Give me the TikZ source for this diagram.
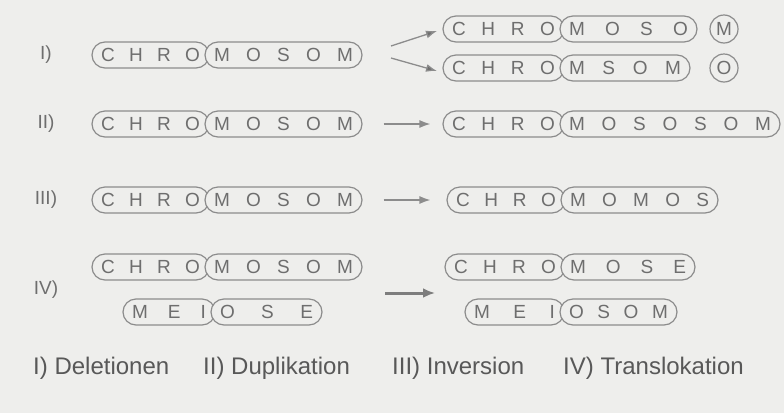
\documentclass[tikz,border=0pt]{standalone}
\usepackage{fontspec}
\setmainfont{Liberation Sans}
\usetikzlibrary{arrows.meta}
\definecolor{paper}{RGB}{238,238,236}
\definecolor{ink}{RGB}{110,110,110}
\definecolor{rim}{RGB}{140,140,140}

\begin{document}
\begin{tikzpicture}[x=1pt,y=-1pt,>={Latex[length=11pt,width=8pt]}]
\tikzstyle{arm} = [draw=rim,line width=1.2pt,fill=paper,rectangle,rounded corners=13pt,minimum height=26pt,inner xsep=9pt,inner ysep=0pt,text=ink,font=\fontsize{19}{24}\selectfont]
\tikzstyle{frag} = [draw=rim,line width=1.2pt,fill=paper,circle,minimum size=28pt,inner sep=0pt,text=ink,font=\fontsize{19}{24}\selectfont]
\tikzstyle{rowlabel} = [text=ink,font=\fontsize{19}{24}\selectfont]
\tikzstyle{legend} = [anchor=west,inner sep=0pt,text=ink!80!black,font=\fontsize{24}{28}\selectfont]
\tikzstyle{mut} = [draw=rim,line width=1.3pt,arrows=->]

\fill[paper] (0,0) rectangle (784,413);
\useasboundingbox (0,0) rectangle (784,413);

\node[rowlabel] (lab1) at (46,55) {I)};
\node[rowlabel] (lab2) at (46,124) {II)};
\node[rowlabel] (lab3) at (46,200) {III)};
\node[rowlabel] (lab4) at (46,290) {IV)};

% I) Deletionen
\node[arm] (i1l) at (150.5,55) {\makebox[99pt][s]{C H R O}};
\node[arm] (i1r) at (283.5,55) {\makebox[139pt][s]{M O S O M}};
\node[arm] (o1al) at (503.5,29) {\makebox[103pt][s]{C H R O}};
\node[arm] (o1ar) at (628.5,29) {\makebox[119pt][s]{M O S O}};
\node[frag] (frag1) at (724,29) {M};
\node[arm] (o1bl) at (503.5,68) {\makebox[103pt][s]{C H R O}};
\node[arm] (o1br) at (625,68) {\makebox[112pt][s]{M S O M}};
\node[frag] (frag2) at (724,68) {O};
\coordinate (fork1a) at (391,46);
\coordinate (tip1a) at (437,31);
\coordinate (fork1b) at (391,58);
\coordinate (tip1b) at (437,71);
\draw[mut,-{Latex[length=11pt,width=8pt,fill=ink]}] (fork1a) -- (tip1a);
\draw[mut,-{Latex[length=11pt,width=8pt,fill=ink]}] (fork1b) -- (tip1b);

% II) Duplikation
\node[arm] (i2l) at (150.5,124) {\makebox[99pt][s]{C H R O}};
\node[arm] (i2r) at (283.5,124) {\makebox[139pt][s]{M O S O M}};
\node[arm] (o2l) at (503.5,124) {\makebox[103pt][s]{C H R O}};
\node[arm] (o2r) at (670,124) {\makebox[202pt][s]{M O S O S O M}};
\draw[mut,shorten <=21pt,shorten >=12pt] (i2r) -- (o2l);

% III) Inversion
\node[arm] (i3l) at (150.5,200) {\makebox[99pt][s]{C H R O}};
\node[arm] (i3r) at (283.5,200) {\makebox[139pt][s]{M O S O M}};
\node[arm] (o3l) at (506,200) {\makebox[100pt][s]{C H R O}};
\node[arm] (o3r) at (639.5,200) {\makebox[139pt][s]{M O M O S}};
\draw[mut,shorten <=21pt,shorten >=16pt] (i3r) -- (o3l);

% IV) Translokation
\node[arm] (i4al) at (150.5,267) {\makebox[99pt][s]{C H R O}};
\node[arm] (i4ar) at (283.5,267) {\makebox[139pt][s]{M O S O M}};
\node[arm] (i4bl) at (169,312) {\makebox[74pt][s]{M E I}};
\node[arm] (i4br) at (266.5,312) {\makebox[93pt][s]{O S E}};
\node[arm] (o4al) at (505,267) {\makebox[102pt][s]{C H R O}};
\node[arm] (o4ar) at (628,267) {\makebox[116pt][s]{M O S E}};
\node[arm] (o4bl) at (514.5,312) {\makebox[81pt][s]{M E I}};
\node[arm] (o4br) at (618.5,312) {\makebox[99pt][s]{O S O M}};
\coordinate (fork4) at (385,293);
\coordinate (tip4) at (435,293);
\draw[mut,line width=3pt,-{Latex[length=12pt,width=10pt]},draw=ink!90!white] (fork4) -- (tip4);

\node[legend] (leg1) at (33,368) {I) Deletionen};
\node[legend] (leg2) at (203,368) {II) Duplikation};
\node[legend] (leg3) at (392,368) {III) Inversion};
\node[legend] (leg4) at (563,368) {IV) Translokation};
\end{tikzpicture}
\end{document}
